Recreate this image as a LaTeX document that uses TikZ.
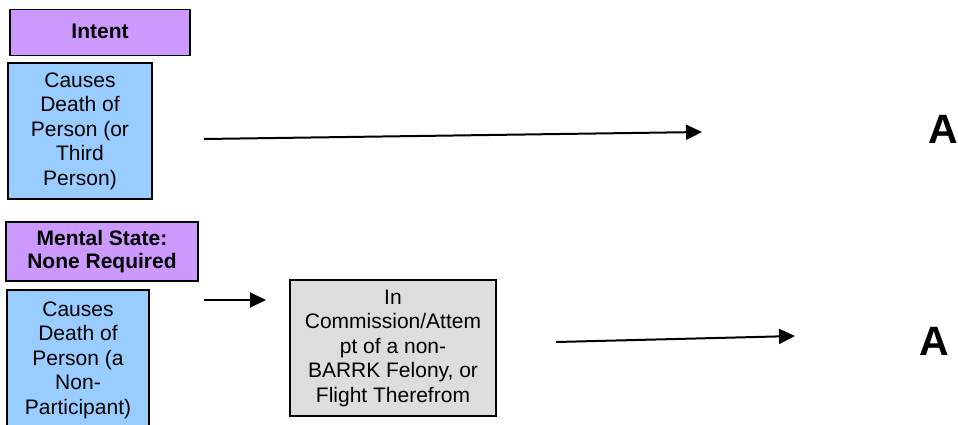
\documentclass[tikz,border=0pt]{standalone}
\usepackage{fontspec}
\setmainfont{Liberation Sans}
\usetikzlibrary{arrows.meta}
\definecolor{headpurple}{HTML}{CC99FF}
\definecolor{factblue}{HTML}{99CCFF}
\definecolor{circgrey}{HTML}{DDDDDD}
\begin{document}
\begin{tikzpicture}[x=1pt,y=-1pt,
  box/.style={draw=black,line width=1.8pt,align=center,inner sep=0pt,
    font=\fontsize{21}{24.5}\selectfont},
  header/.style={box,fill=headpurple,font=\fontsize{21}{23.5}\selectfont\bfseries},
  fact/.style={box,fill=factblue},
  circ/.style={box,fill=circgrey},
  result/.style={font=\fontsize{41}{41}\selectfont\bfseries,inner sep=0pt},
  link/.style={line width=2pt,-{Triangle[length=16pt,width=15pt]}}]
\useasboundingbox (0,0) rectangle (958,424);
\begin{scope}
\clip (0,0) rectangle (958,424);

% first row: intentional killing
\node[header,minimum width=180,minimum height=46] (intent) at (100,32.5) {\raisebox{3pt}{Intent}};
\node[fact,minimum width=144,minimum height=136] (death1) at (80,131)
  {Causes\\Death of\\Person (or\\Third\\Person)};
\node[result] (res1) at (943,129) {A};
\coordinate (s1) at (204,139);
\coordinate (e1) at (702,132);
\draw[link] (s1) -- (e1);

% second row: felony killing
\node[header,minimum width=192,minimum height=59] (mental) at (102,251.5)
  {Mental State:\\None Required};
\node[fact,minimum width=142,minimum height=140] (death2) at (78,360)
  {Causes\\Death of\\Person (a\\Non-\\Participant)};
\node[circ,minimum width=206,minimum height=136] (felony) at (393,348)
  {In\\Commission/Attem\\pt of a non-\\BARRK Felony, or\\Flight Therefrom};
\node[result] (res2) at (934,341) {A};
\coordinate (s2) at (204,300);
\coordinate (e2) at (266,300);
\draw[link] (s2) -- (e2);
\coordinate (s3) at (556,342);
\coordinate (e3) at (795,336);
\draw[link] (s3) -- (e3);
\end{scope}
\end{tikzpicture}
\end{document}
